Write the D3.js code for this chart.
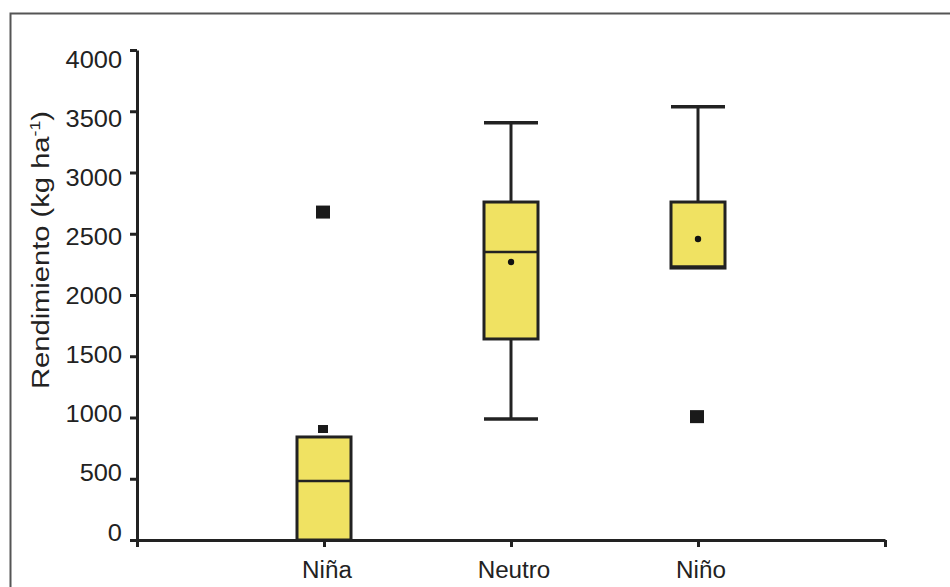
<!DOCTYPE html>
<html><head><meta charset="utf-8">
<script src="https://cdn.jsdelivr.net/npm/d3@7"></script>
<style>body{margin:0;background:#fff}svg{display:block}text{font-family:"Liberation Sans",Arial,sans-serif;fill:#222}</style>
</head><body>
<svg id="c" width="950" height="587"></svg>
<script>
const categories = ["Niña", "Neutro", "Niño"];
const q1 = [0, 1641, 2220];
const median = [482, 2351, 2232];
const q3 = [841, 2759, 2759];
const whiskerLow = [null, 988, null];
const whiskerHigh = [null, 3406, 3537];
const means = [null, 2269, 2457];
const outlierCat = ["Niña", "Niña", "Niño"];
const outlierVal = [2677, 906, 1007];
const outlierSize = ["large", "small", "large"];
const yTicks = [0, 500, 1000, 1500, 2000, 2500, 3000, 3500, 4000];
const yTitle = "Rendimiento  (kg ha";
const yTitleSup = "-1";

const svg = d3.select("#c");
const ink = "#222";

// outer frame
svg.append("rect").attr("x", 10.5).attr("y", 13.5).attr("width", 960).attr("height", 620)
  .attr("fill", "none").attr("stroke", "#555").attr("stroke-width", 2);

const y = d3.scaleLinear().domain([0, 4000]).range([540, 50]);
const yLab = d3.scaleLinear().domain([0, 4000]).range([532, 59.5]);
const x = d3.scaleLinear().domain([0, categories.length + 1]).range([137, 885]);
const cx = c => x(categories.indexOf(c) + 1);
const bw = 54;

// boxes
categories.forEach((c, i) => {
  const xc = cx(c);
  const g = svg.append("g");
  if (whiskerHigh[i] != null) {
    g.append("line").attr("x1", xc).attr("x2", xc).attr("y1", y(q3[i])).attr("y2", y(whiskerHigh[i]))
      .attr("stroke", ink).attr("stroke-width", 3);
    g.append("line").attr("x1", xc - bw / 2).attr("x2", xc + bw / 2).attr("y1", y(whiskerHigh[i])).attr("y2", y(whiskerHigh[i]))
      .attr("stroke", ink).attr("stroke-width", 3.5);
  }
  if (whiskerLow[i] != null) {
    g.append("line").attr("x1", xc).attr("x2", xc).attr("y1", y(q1[i])).attr("y2", y(whiskerLow[i]))
      .attr("stroke", ink).attr("stroke-width", 3);
    g.append("line").attr("x1", xc - bw / 2).attr("x2", xc + bw / 2).attr("y1", y(whiskerLow[i])).attr("y2", y(whiskerLow[i]))
      .attr("stroke", ink).attr("stroke-width", 3.5);
  }
  g.append("rect").attr("x", xc - bw / 2).attr("y", y(q3[i])).attr("width", bw).attr("height", y(q1[i]) - y(q3[i]))
    .attr("fill", "#f0e262").attr("stroke", ink).attr("stroke-width", 3);
  g.append("line").attr("x1", xc - bw / 2).attr("x2", xc + bw / 2).attr("y1", y(median[i])).attr("y2", y(median[i]))
    .attr("stroke", ink).attr("stroke-width", 2.5);
  if (means[i] != null) {
    g.append("circle").attr("cx", xc).attr("cy", y(means[i])).attr("r", 3.2).attr("fill", "#111");
  }
});

// outliers
outlierVal.forEach((v, i) => {
  const xc = cx(outlierCat[i]);
  const w = outlierSize[i] === "large" ? 14 : 10;
  const h = outlierSize[i] === "large" ? 13 : 8;
  svg.append("rect").attr("x", xc - w / 2 - 1).attr("y", y(v) - h / 2).attr("width", w).attr("height", h)
    .attr("fill", "#1a1a1a");
});

// axes
const yAxis = svg.append("g").attr("transform", "translate(137,0)")
  .call(d3.axisLeft(y).tickValues(yTicks).tickSize(7).tickSizeOuter(0).tickFormat(""));
const xAxis = svg.append("g").attr("transform", "translate(0,540)")
  .call(d3.axisBottom(x).ticks(categories.length + 1).tickSize(7).tickSizeOuter(0).tickFormat(""));
[yAxis, xAxis].forEach(a => {
  a.select(".domain").attr("stroke", ink).attr("stroke-width", 3);
  a.selectAll(".tick line").attr("stroke", ink).attr("stroke-width", 3);
});

function stretch(sel, f) {
  sel.each(function () {
    const L = this.getComputedTextLength();
    d3.select(this).attr("textLength", L * f).attr("lengthAdjust", "spacingAndGlyphs");
  });
}

// y tick labels
const yl = svg.append("g").selectAll("text").data(yTicks).join("text")
  .attr("x", 122).attr("y", d => yLab(d) + 8.5).attr("text-anchor", "end")
  .attr("font-size", 23.5).text(d => d);
stretch(yl, 1.08);

// x labels
const xl = svg.append("g").selectAll("text").data(categories).join("text")
  .attr("x", d => cx(d) + 3).attr("y", 578).attr("text-anchor", "middle")
  .attr("font-size", 23.5).text(d => d);
stretch(xl, 1.03);

// y title
const t = svg.append("text").attr("transform", "translate(49,250) rotate(-90)")
  .attr("text-anchor", "middle").attr("font-size", 23).attr("fill", "#2a2a2a");
t.append("tspan").text(yTitle);
t.append("tspan").attr("font-size", 14).attr("dy", -9).text(yTitleSup);
t.append("tspan").attr("dy", 9).text(")");
t.attr("textLength", 278).attr("lengthAdjust", "spacingAndGlyphs");
</script>
</body></html>
